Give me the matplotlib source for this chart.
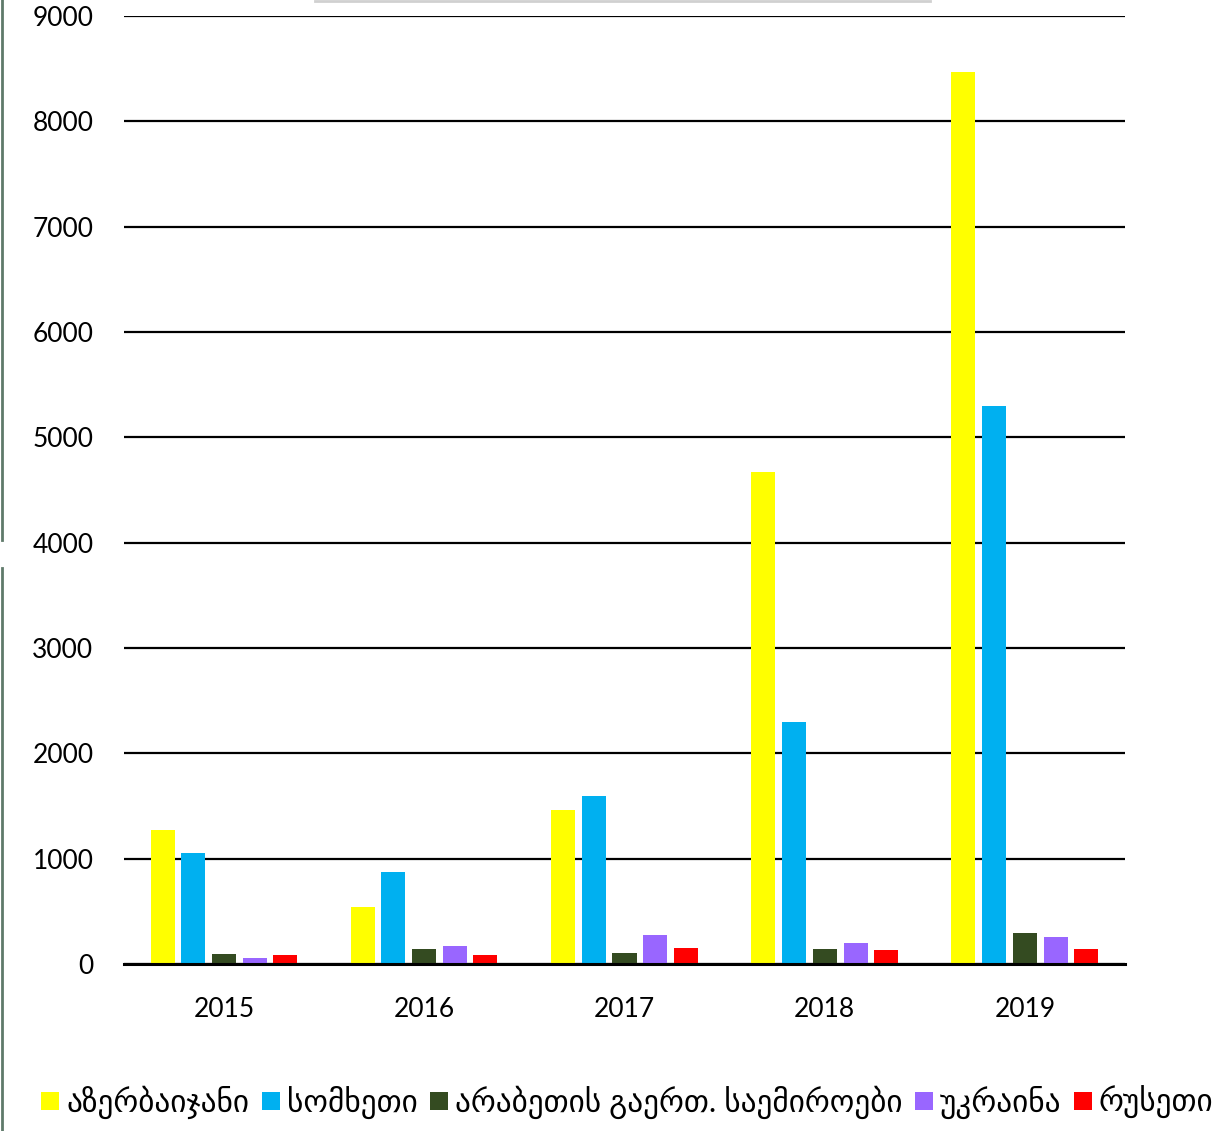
import matplotlib
matplotlib.use("Agg")
import matplotlib.pyplot as plt
from matplotlib.lines import Line2D
import numpy as np

plt.rcParams['font.family'] = ['Lato', 'DejaVu Sans']

years = ['2015', '2016', '2017', '2018', '2019']
series_names = ['აზერბაიჯანი', 'სომხეთი', 'არაბეთის გაერთ. საემიროები', 'უკრაინა', 'რუსეთი']
azerbaijan = [1270, 541, 1462, 4671, 8469]
armenia = [1054, 873, 1595, 2297, 5298]
uae = [95, 140, 104, 139, 294]
ukraine = [57, 171, 275, 199, 256]
russia = [85, 85, 152, 130, 142]
colors = ['#FFFF00', '#00B0F0', '#344B21', '#9966FF', '#FF0000']
yticks = [0, 1000, 2000, 3000, 4000, 5000, 6000, 7000, 8000, 9000]

W, H = 1229, 1131
fig = plt.figure(figsize=(W / 100, H / 100), dpi=100)
ax = fig.add_axes([124 / W, 1 - 964 / H, (1125 - 124) / W, (964 - 16) / H])

data = [azerbaijan, armenia, uae, ukraine, russia]
offsets = [-0.307, -0.154, 0.0, 0.154, 0.305]
x = np.arange(len(years))
for vals, off, c in zip(data, offsets, colors):
    ax.bar(x + off, vals, width=0.12, color=c, linewidth=0, zorder=3)

ax.set_xlim(-0.5, 4.5)
ax.set_ylim(0, 9000)
ax.set_yticks(yticks)
ax.set_yticklabels([str(v) for v in yticks], fontsize=19)
ax.set_xticks(x)
ax.set_xticklabels(years, fontsize=19)
ax.tick_params(axis='both', length=0)
ax.tick_params(axis='y', pad=22)
ax.tick_params(axis='x', pad=24)
ax.grid(axis='y', color='black', linewidth=1.6, zorder=1)
ax.set_axisbelow(True)
for s in ['left', 'right', 'top']:
    ax.spines[s].set_visible(False)
ax.spines['bottom'].set_color('black')
ax.spines['bottom'].set_linewidth(2.2)
ax.spines['bottom'].set_zorder(4)

handles = [Line2D([0], [0], marker='s', linestyle='none', markersize=13,
                  markerfacecolor=c, markeredgewidth=0) for c in colors]
fig.legend(handles, series_names, loc='center', bbox_to_anchor=(628 / W, 1 - 1102 / H),
           ncol=5, frameon=False, fontsize=22.5, handlelength=0.5, handletextpad=0.25,
           columnspacing=0.45, borderaxespad=0)

# frame artifacts
fig.add_artist(Line2D([2 / W, 2 / W], [1, 1 - 540 / H], color='#5F7A6A', linewidth=2))
fig.add_artist(Line2D([2 / W, 2 / W], [1 - 568 / H, 0], color='#5F7A6A', linewidth=2))
fig.add_artist(Line2D([315 / W, 930 / W], [1 - 0.5 / H, 1 - 0.5 / H], color='#D0D0D0', linewidth=2))

fig.savefig('out.png', dpi=100)
